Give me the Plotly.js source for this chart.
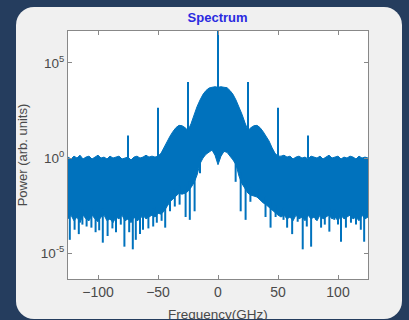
<!DOCTYPE html>
<html>
<head>
<meta charset="utf-8">
<script src="https://cdn.plot.ly/plotly-3.0.1.min.js"></script>
<style>
  html, body { margin:0; padding:0; width:409px; height:320px; overflow:hidden; background:#253d5e; }
  #panel { position:absolute; left:16px; top:7px; width:386px; height:312px; background:#f0f0f0; border-radius:18px; }
  #chart { position:absolute; left:0; top:0; width:409px; height:320px; }
</style>
</head>
<body>
<div id="panel"></div>
<div id="chart"></div>
<script>
// Envelope sample frequencies (GHz), every 2.5 GHz from -125 to 125
const freq = [];
for (let i = 0; i <= 100; i++) freq.push(-125 + 2.5 * i);

// Upper envelope of the dense spectrum (log10 power)
const upperLog = [
  0.05,-0.05,0.1,0.0,0.15,-0.05,0.05,0.1,-0.05,0.05,
  0.15,0.0,0.05,-0.05,0.1,0.0,0.05,0.1,-0.05,0.0,
  0.05,-0.1,0.05,0.1,0.0,0.05,0.15,0.05,0.1,0.05,
  0.1,0.25,0.55,0.9,1.15,1.4,1.6,1.72,1.7,1.6,
  1.45,1.8,2.3,2.7,3.05,3.35,3.55,3.68,3.72,3.75,
  3.72,
  3.75,3.72,3.7,3.55,3.35,3.05,2.7,2.3,1.85,1.45,
  1.6,1.7,1.72,1.6,1.4,1.15,0.9,0.55,0.25,0.1,
  0.1,0.15,0.05,0.1,-0.05,0.05,0.1,0.0,0.05,-0.05,
  0.1,0.05,0.0,0.1,-0.05,0.05,0.15,0.0,0.05,0.1,
  -0.05,0.05,0.0,0.1,0.05,-0.05,0.1,0.0,0.05,0.0
];

// Lower envelope of the dense spectrum (log10 power)
const lowerLog = [
  -3.2,-3.0,-3.3,-3.1,-3.4,-3.0,-3.2,-3.3,-3.0,-3.2,
  -3.35,-3.1,-3.0,-3.3,-3.2,-3.4,-3.1,-3.2,-3.0,-3.3,
  -3.2,-3.4,-3.1,-3.3,-3.2,-3.0,-3.2,-3.1,-3.0,-3.1,
  -2.9,-2.95,-2.8,-2.55,-2.3,-2.1,-2.0,-1.85,-1.9,-1.85,
  -1.75,-1.55,-1.3,-0.9,-0.3,0.0,0.2,0.3,0.42,0.15,
  -0.35,
  0.1,0.35,0.3,0.1,-0.1,-0.35,-0.95,-1.35,-1.6,-1.85,
  -1.95,-2.0,-2.05,-2.2,-2.35,-2.45,-2.55,-2.7,-2.85,-3.0,
  -3.1,-3.0,-3.2,-3.1,-3.3,-3.0,-3.2,-3.1,-3.3,-3.0,
  -3.2,-3.1,-3.3,-3.0,-3.2,-3.1,-3.0,-3.2,-3.1,-3.3,
  -3.0,-3.2,-3.1,-3.0,-3.2,-3.1,-3.3,-3.0,-3.2,-3.1
];

// Downward noise spikes: frequency (GHz) and bottom (log10 power)
const spikeFreq = [-123.5,-119.5,-116,-113,-109.5,-105.5,-102,-99,-96,-92,-88,-85,-81,-78,-74,-71,-68.5,-65,-62.5,-58,-54,-51,-47,-44,-40,-36,-32,-27,-23.5,-19.5,-15,
  14.7,18.9,23,27,32.7,39.6,43.8,48,54.6,57.6,61.8,66.4,70.6,74,77.6,81.7,85.9,89,92.8,96.9,100,102.5,106.6,110.8,115,119,121.8];
const spikeLog = [-4.3,-3.77,-4.0,-3.5,-3.6,-3.66,-3.9,-3.8,-4.45,-4.1,-3.7,-3.9,-3.5,-4.66,-3.9,-4.8,-4.3,-4.0,-3.77,-3.7,-3.6,-3.4,-3.3,-3.66,-2.8,-2.55,-2.45,-3.1,-3.25,-2.8,-0.8,
  -1.25,-2.8,-3.25,-2.3,-2.0,-3.1,-3.66,-3.1,-3.25,-3.66,-4.0,-3.35,-4.8,-3.6,-4.66,-3.25,-3.66,-3.5,-3.87,-3.25,-3.5,-4.4,-3.66,-3.4,-3.5,-3.77,-4.4];

// Discrete tones: frequency (GHz) and peak (log10 power)
const toneFreq = [-75,-50,-25,0,25,50,75];
const toneLog  = [1.18,2.64,4.0,7.5,4.0,2.64,1.18];

const xTicks = [-100,-50,0,50,100];
const yTickVals = [1e-5,1,1e5];
const yTickText = ['10<sup>-5</sup>','10<sup>0</sup>','10<sup>5</sup>'];

const BLUE = '#0072BD';
function interpLower(f){
  for (let i = 0; i < freq.length-1; i++){
    if (f >= freq[i] && f <= freq[i+1]){
      const t = (f - freq[i])/(freq[i+1]-freq[i]);
      return lowerLog[i] + t*(lowerLog[i+1]-lowerLog[i]);
    }
  }
  return lowerLog[lowerLog.length-1];
}

// Band polygon
const bx = freq.concat(freq.slice().reverse());
const by = upperLog.map(v=>Math.pow(10,v)).concat(lowerLog.slice().reverse().map(v=>Math.pow(10,v)));

const sx = [], sy = [];
spikeFreq.forEach((f,i)=>{
  sx.push(f,f,null);
  sy.push(Math.pow(10, interpLower(f)+0.4), Math.pow(10, spikeLog[i]), null);
});
const tx = [], ty = [];
toneFreq.forEach((f,i)=>{
  tx.push(f,f,null);
  ty.push(1, Math.pow(10, toneLog[i]), null);
});

const traces = [
  {x:bx, y:by, type:'scatter', mode:'lines', fill:'toself', fillcolor:BLUE,
   line:{color:BLUE, width:1}, hoverinfo:'skip', showlegend:false},
  {x:sx, y:sy, type:'scatter', mode:'lines', line:{color:BLUE, width:2}, hoverinfo:'skip', showlegend:false},
  {x:tx, y:ty, type:'scatter', mode:'lines', line:{color:BLUE, width:2}, hoverinfo:'skip', showlegend:false}
];

const FAM = 'Liberation Sans, Arial, sans-serif';
const layout = {
  width:409, height:320,
  margin:{l:68, r:41, t:31, b:41},
  paper_bgcolor:'rgba(0,0,0,0)', plot_bgcolor:'#ffffff',
  title:{text:'<b>Spectrum</b>', x:0.532, xanchor:'center', y:0.944, yanchor:'middle', yref:'container',
         font:{family:FAM, size:13, color:'#2a2ae0'}},
  xaxis:{range:[-125,125], tickvals:xTicks, ticks:'inside', ticklen:4, tickcolor:'#888',
         showline:true, linecolor:'#888', linewidth:1, mirror:'ticks', showgrid:false, zeroline:false,
         tickfont:{family:FAM, size:14, color:'#4a4a4a'}},
  yaxis:{type:'log', range:[-6.36,6.68], tickvals:yTickVals, ticktext:yTickText, ticks:'inside', ticklen:4, tickcolor:'#888',
         showline:true, linecolor:'#888', linewidth:1, mirror:'ticks', showgrid:false, zeroline:false,
         tickfont:{family:FAM, size:13.5, color:'#4a4a4a'},
         title:{text:'Power (arb. units)', font:{family:FAM, size:13, color:'#4a4a4a'}, standoff:10}},
  annotations:[{text:'Frequency(GHz)', xref:'paper', yref:'paper', x:0.5, y:-0.145, xanchor:'center', yanchor:'middle',
                showarrow:false, font:{family:FAM, size:13.5, color:'#4a4a4a'}}],
  showlegend:false
};
Plotly.newPlot('chart', traces, layout, {staticPlot:true, displayModeBar:false});
</script>
</body>
</html>
